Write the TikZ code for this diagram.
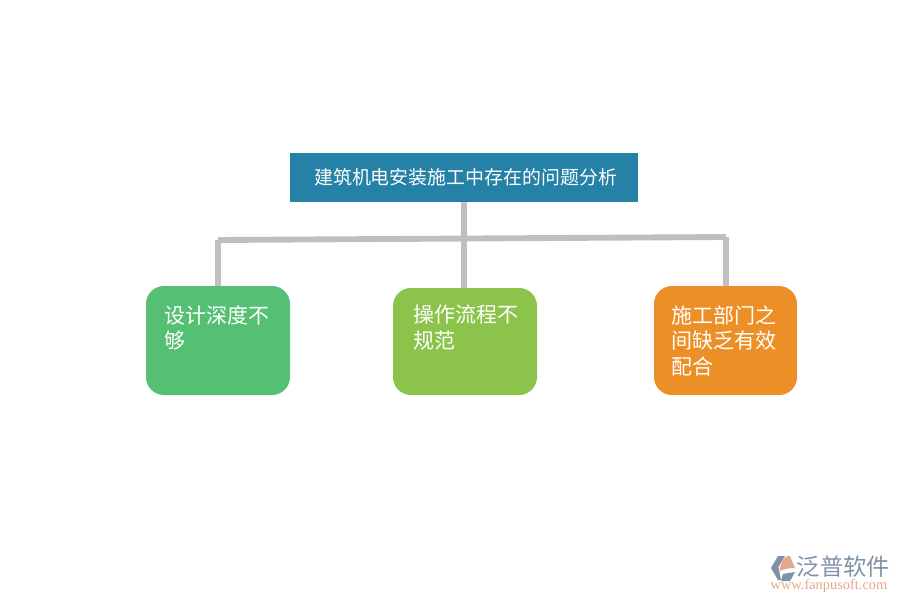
\documentclass[tikz,border=0pt]{standalone}
\usepackage{fontspec}
\setmainfont{Noto Sans CJK SC}
\newfontfamily\urlfont{Liberation Serif}
\definecolor{titleblue}{HTML}{2681A6}
\definecolor{boxgreen}{HTML}{55BF73}
\definecolor{boxlime}{HTML}{8CC34B}
\definecolor{boxorange}{HTML}{EC8F26}
\definecolor{linegray}{HTML}{BFBFBF}
\definecolor{logoblue}{HTML}{7F92A8}
\definecolor{logopeach}{HTML}{E5A98A}
\tikzset{
  titlebox/.style={fill=titleblue,minimum width=348*0.75pt,minimum height=49*0.75pt,inner sep=0pt,text=white,font=\fontsize{14.2pt}{18pt}\selectfont},
  itembox/.style={rounded corners=13.5pt,minimum width=144*0.75pt,inner sep=0pt,text=white},
  itemtext/.style={text=white,anchor=north west,inner sep=0pt,align=left,font=\fontsize{15.75pt}{19.4pt}\selectfont},
  conn/.style={draw=linegray,line width=4.4pt},
}
\begin{document}
\begin{tikzpicture}[x=0.75pt,y=-0.75pt]
\useasboundingbox (0,0) rectangle (900,600);
\fill[white] (0,0) rectangle (900,600);
\node[titlebox] (title) at (464,177.5) {\hspace{2.4pt}\raisebox{0.6pt}{建筑机电安装施工中存在的问题分析}};
\node[itembox,fill=boxgreen,minimum height=109*0.75pt] (a) at (218,340.5) {};
\node[itembox,fill=boxlime,minimum height=107*0.75pt] (b) at (465,341.5) {};
\node[itembox,fill=boxorange,minimum height=109*0.75pt,minimum width=143*0.75pt] (c) at (725.5,340.5) {};
\coordinate (ja) at (218,240);
\coordinate (jc) at (726,237);
\draw[conn] (title.south -| 464,0) -- (464,0 |- b.north);
\draw[conn,line cap=square] (ja) -- (jc);
\draw[conn] (ja) -- (218,0 |- a.north);
\draw[conn] (jc) -- (726,0 |- c.north);
\node[itemtext] (ta) at (164,305) {设计深度不\\够};
\node[itemtext] (tb) at (413.5,305) {操作流程不\\规范};
\node[itemtext] (tc) at (671,305) {施工部门之\\间缺乏有效\\配合};
% logo
\fill[logoblue] (771,568) -- (778,556) -- (785,556) -- (778.5,567) -- (781,580) -- (778,580) -- cycle;
\fill[logopeach] (779.5,571) .. controls (781,562) and (784,557) .. (788,556) -- (790,556) -- (795,568) .. controls (790,568) and (784,569) .. (779.5,571) -- cycle;
\fill[logoblue] (783,574) -- (795,572) -- (790,581) -- (781,581) -- cycle;
\node[inner sep=0pt,text=logoblue,font=\fontsize{17.5pt}{20pt}\selectfont] (brand) at (843.5,566.5) {泛普软件};
\node[inner sep=0pt,text=logopeach,font=\urlfont\fontsize{10.8pt}{12pt}\selectfont] (url) at (829,585.5) {www.fanpusoft.com};
\end{tikzpicture}
\end{document}
